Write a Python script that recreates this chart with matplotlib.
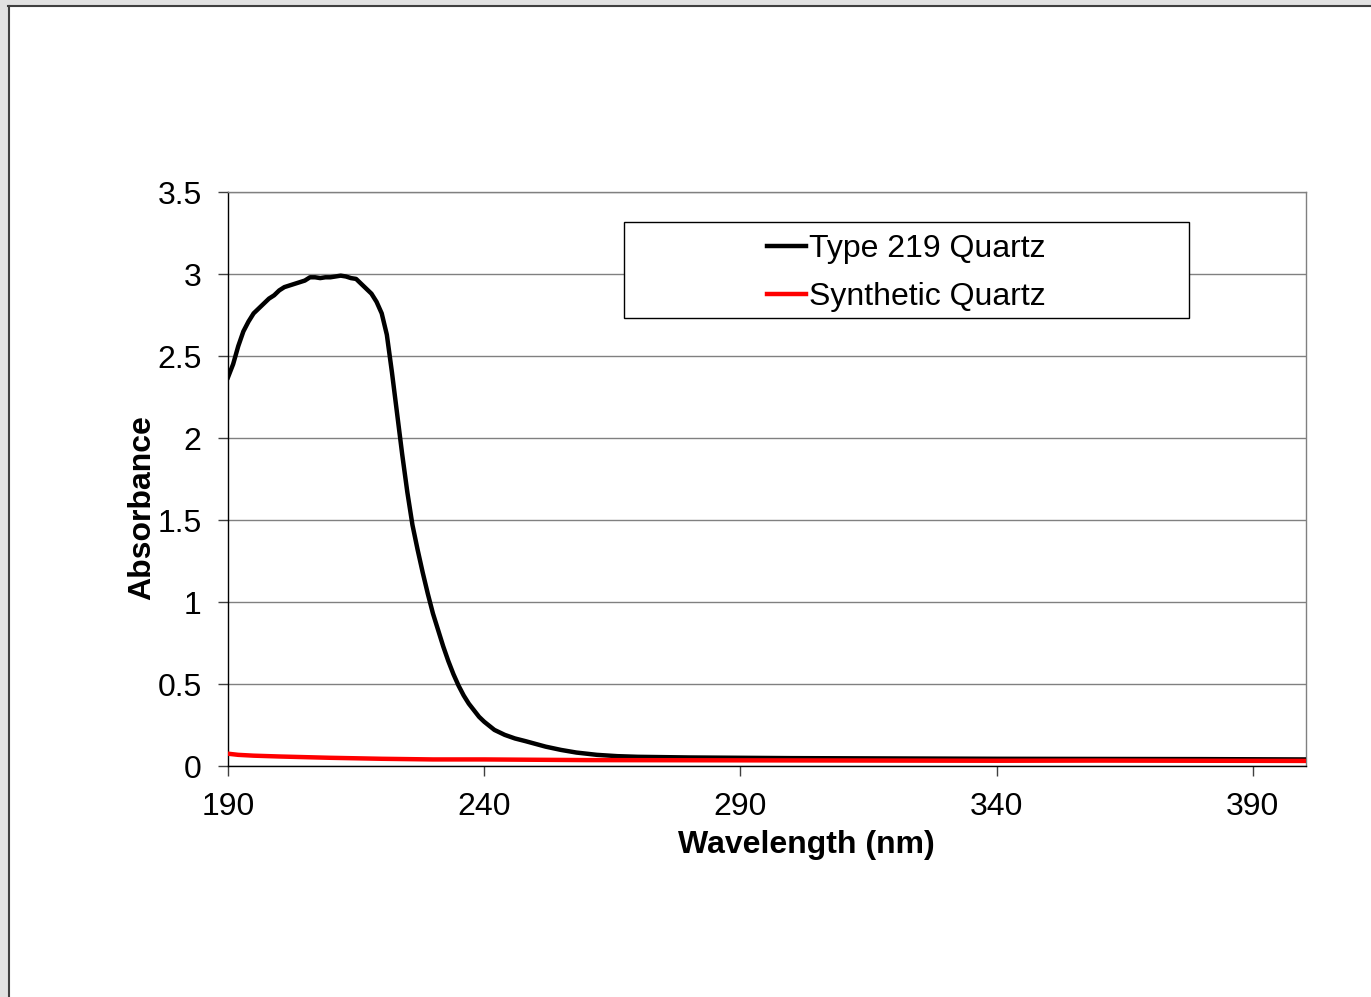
import matplotlib
matplotlib.use("Agg")
from matplotlib import pyplot as plt
from matplotlib.patches import Rectangle
from matplotlib.lines import Line2D

plt.rcParams["font.family"] = ["Liberation Sans", "DejaVu Sans"]

# Type 219 Quartz absorbance
wl_219 = [190, 191, 192, 193, 194, 195, 196, 197, 198, 199, 200, 201, 202, 203, 204,
          205, 206, 207, 208, 209, 210, 211, 212, 213, 214, 215, 216, 217, 218, 219,
          220, 221, 222, 223, 224, 225, 226, 227, 228, 229, 230, 231, 232, 233, 234,
          235, 236, 237, 238, 239, 240, 242, 244, 246, 248, 250, 252, 255, 258, 262,
          266, 270, 280, 290, 300, 320, 340, 360, 380, 400]
abs_219 = [2.37, 2.45, 2.56, 2.65, 2.71, 2.76, 2.79, 2.82, 2.85, 2.87, 2.90, 2.92, 2.93, 2.94, 2.95,
           2.96, 2.98, 2.98, 2.975, 2.98, 2.98, 2.985, 2.99, 2.985, 2.975, 2.97, 2.94, 2.91, 2.88, 2.83,
           2.76, 2.63, 2.40, 2.15, 1.90, 1.67, 1.47, 1.32, 1.18, 1.05, 0.93, 0.83, 0.73, 0.64, 0.56,
           0.49, 0.43, 0.38, 0.34, 0.30, 0.27, 0.22, 0.19, 0.168, 0.152, 0.135, 0.118, 0.098, 0.082, 0.068,
           0.06, 0.056, 0.052, 0.05, 0.048, 0.046, 0.044, 0.043, 0.042, 0.04]

# Synthetic Quartz absorbance
wl_syn = [190, 192, 195, 200, 205, 210, 215, 220, 225, 230, 240, 250, 260, 280, 300,
          320, 340, 360, 380, 400]
abs_syn = [0.075, 0.068, 0.063, 0.058, 0.054, 0.05, 0.047, 0.044, 0.042, 0.04, 0.04, 0.038,
           0.036, 0.035, 0.034, 0.033, 0.032, 0.033, 0.032, 0.031]

x_ticks = [190, 240, 290, 340, 390]
y_ticks = [0, 0.5, 1, 1.5, 2, 2.5, 3, 3.5]
y_tick_labels = ["0", "0.5", "1", "1.5", "2", "2.5", "3", "3.5"]

W, H = 1371, 997
FS = 23
fig = plt.figure(figsize=(W / 100, H / 100), dpi=100)

# screenshot frame: grey strips and dark border lines
fig.add_artist(Rectangle((0, 1 - 6 / H), 1, 6 / H, transform=fig.transFigure,
                         facecolor="#e2e2e2", edgecolor="none"))
fig.add_artist(Rectangle((0, 0), 8 / W, 1, transform=fig.transFigure,
                         facecolor="#e2e2e2", edgecolor="none"))
fig.add_artist(Line2D([8 / W, 1370 / W], [1 - 6.5 / H, 1 - 6.5 / H], transform=fig.transFigure,
                      color="#404040", lw=1.5))
fig.add_artist(Line2D([8.5 / W, 8.5 / W], [0, 1 - 6.5 / H], transform=fig.transFigure,
                      color="#404040", lw=1.5))

ax = fig.add_axes([228 / W, 1 - 766 / H, (1306 - 228) / W, (766 - 192) / H])

ax.plot(wl_219, abs_219, color="black", lw=3.2, label="Type 219 Quartz", zorder=3,
        solid_joinstyle="round")
ax.plot(wl_syn, abs_syn, color="#ff0000", lw=3.2, label="Synthetic Quartz", zorder=3)

ax.set_xlim(190, 400.4)
ax.set_ylim(0, 3.5)
ax.set_xticks(x_ticks)
ax.set_yticks(y_ticks)
ax.set_yticklabels(y_tick_labels)
ax.tick_params(axis="both", labelsize=FS, length=7, width=1, color="#404040")
ax.tick_params(axis="y", pad=12)
ax.tick_params(axis="x", pad=11.5)

ax.yaxis.grid(True, color="#808080", lw=1)
ax.set_axisbelow(True)
ax.spines["left"].set_color("black")
ax.spines["bottom"].set_color("black")
ax.spines["top"].set_color("#808080")
ax.spines["right"].set_color("#808080")
for s in ax.spines.values():
    s.set_linewidth(1)

# legend box
x0 = (624 - 228) / 1078
x1 = (1189 - 228) / 1078
y0 = (766 - 318) / 574
y1 = (766 - 222) / 574
ax.add_patch(Rectangle((x0, y0), x1 - x0, y1 - y0, transform=ax.transAxes,
                       facecolor="white", edgecolor="black", lw=1, zorder=4))
ax.legend(loc="center", bbox_to_anchor=((x0 + x1) / 2, (y0 + y1) / 2 - 3 / 574), frameon=False,
          fontsize=FS, handlelength=1.2, handletextpad=0.1, labelspacing=0.55)
ax.get_legend().set_zorder(5)

fig.text(806 / W, 1 - 845 / H, "Wavelength (nm)", fontsize=FS, fontweight="bold",
         ha="center", va="center")
fig.text(142 / W, 1 - 508 / H, "Absorbance", fontsize=FS, fontweight="bold",
         ha="center", va="center", rotation=90)

fig.savefig("out.png", dpi=100)
